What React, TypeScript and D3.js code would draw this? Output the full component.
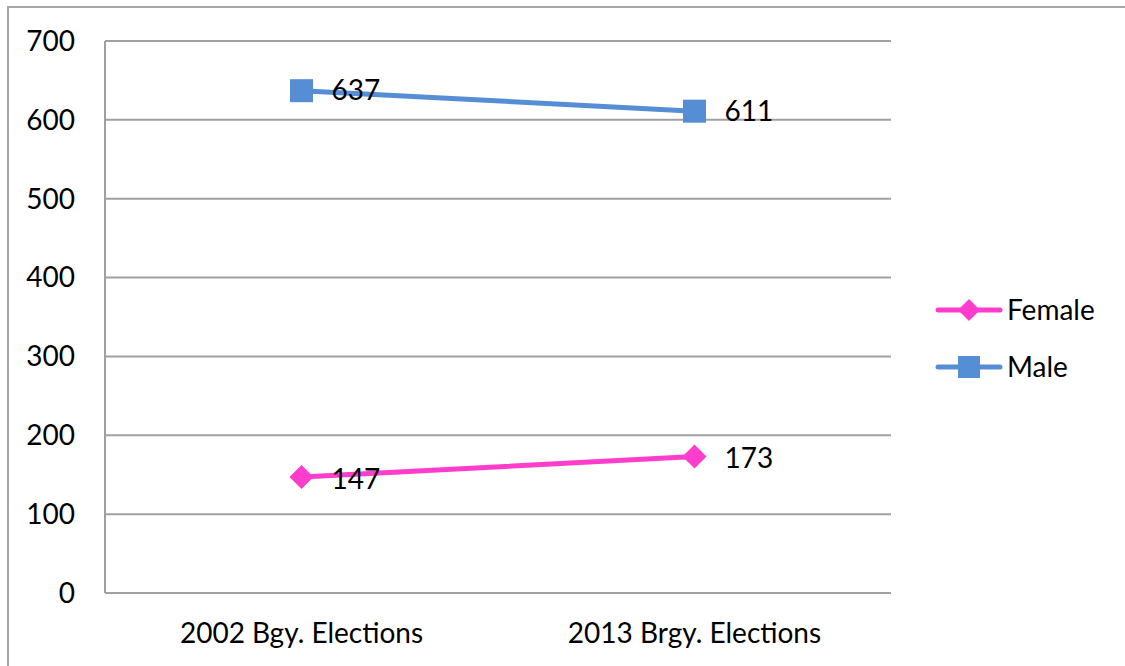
import React from "react";
import * as d3 from "d3";

const categories = ["2002 Bgy. Elections", "2013 Brgy. Elections"];
const femaleValues = [147, 173];
const maleValues = [637, 611];
const yTicks = [0, 100, 200, 300, 400, 500, 600, 700];
const seriesNames = ["Female", "Male"];

const W = 1125;
const H = 666;
const FONT = "Lato, 'Open Sans', sans-serif";
const FS = 28;

export default function App() {
  const plotLeft = 105;
  const plotRight = 891;
  const plotTop = 41;
  const plotBottom = 593;

  const x = d3.scaleBand<string>().domain(categories).range([plotLeft, plotRight]);
  const y = d3.scaleLinear().domain([0, 700]).range([plotBottom, plotTop]);
  const cx = (c: string) => (x(c) ?? 0) + x.bandwidth() / 2;

  const line = d3
    .line<number>()
    .x((_, i) => cx(categories[i]))
    .y((d) => y(d));

  const femaleColor = "#ff3dcc";
  const maleColor = "#558ed5";
  const grid = "#a0a0a0";

  const diamond = (px: number, py: number, r: number) =>
    `M${px - r},${py} L${px},${py - r} L${px + r},${py} L${px},${py + r} Z`;

  return (
    <svg
      width={W}
      height={H}
      style={{ position: "absolute", left: 0, top: 0, background: "#fff" }}
      fontFamily={FONT}
    >
      <rect x={8} y={7} width={W + 20} height={H + 20} fill="#fff" stroke="#a6a6a6" strokeWidth={2} />
      {yTicks.map((t) => (
        <g key={t}>
          {t > 0 && (
            <line x1={plotLeft} x2={plotRight} y1={y(t)} y2={y(t)} stroke={grid} strokeWidth={2} />
          )}
          <text x={75} y={y(t)} dy="0.35em" textAnchor="end" fontSize={FS} fill="#000">
            {t}
          </text>
        </g>
      ))}
      <line x1={plotLeft} x2={plotRight} y1={plotBottom} y2={plotBottom} stroke={grid} strokeWidth={2} />
      <line x1={plotLeft} x2={plotLeft} y1={plotTop} y2={plotBottom} stroke={grid} strokeWidth={2} />
      {categories.map((c) => (
        <text key={c} x={cx(c)} y={633} dy="0.35em" textAnchor="middle" fontSize={FS} fill="#000">
          {c}
        </text>
      ))}

      <path d={line(maleValues) ?? ""} fill="none" stroke={maleColor} strokeWidth={5} strokeLinecap="round" />
      <path d={line(femaleValues) ?? ""} fill="none" stroke={femaleColor} strokeWidth={5} strokeLinecap="round" />

      {maleValues.map((v, i) => (
        <g key={"m" + i}>
          <rect x={cx(categories[i]) - 11.5} y={y(v) - 11.5} width={23} height={23} fill={maleColor} />
          <text x={cx(categories[i]) + 30} y={y(v)} dy="0.35em" fontSize={FS} fill="#000">
            {v}
          </text>
        </g>
      ))}
      {femaleValues.map((v, i) => (
        <g key={"f" + i}>
          <path d={diamond(cx(categories[i]), y(v), 12)} fill={femaleColor} />
          <text x={cx(categories[i]) + 30} y={y(v) + 2} dy="0.35em" fontSize={FS} fill="#000">
            {v}
          </text>
        </g>
      ))}

      {seriesNames.map((s, i) => {
        const ly = 310 + i * 57;
        const col = i === 0 ? femaleColor : maleColor;
        return (
          <g key={s}>
            <line x1={938} x2={1000} y1={ly} y2={ly} stroke={col} strokeWidth={5} strokeLinecap="round" />
            {i === 0 ? (
              <path d={diamond(969, ly, 11)} fill={col} />
            ) : (
              <rect x={958} y={ly - 11} width={22} height={22} fill={col} />
            )}
            <text x={1007} y={ly} dy="0.35em" fontSize={FS} fill="#000">
              {s}
            </text>
          </g>
        );
      })}
    </svg>
  );
}
